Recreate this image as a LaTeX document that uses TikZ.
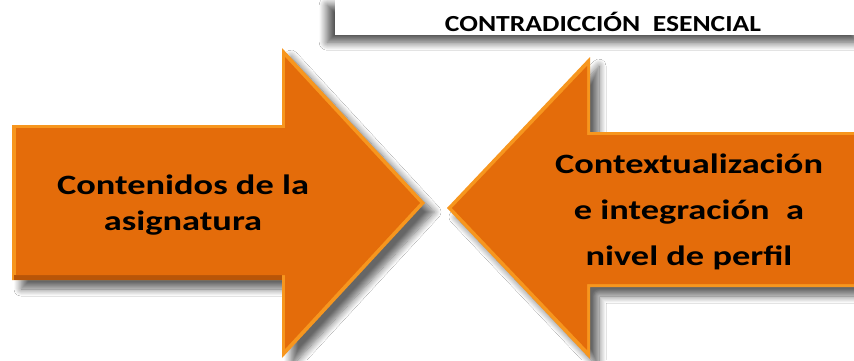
\documentclass[tikz,border=0pt]{standalone}
\usepackage{fontspec}
\setmainfont{Carlito}
\newfontfamily\widefont[FakeStretch=1.3]{Carlito}
\newfontfamily\hdrfont[FakeStretch=1.2]{Carlito}
\usetikzlibrary{shadows.blur}
\definecolor{orbase}{HTML}{E46C0A}
\definecolor{orlight}{HTML}{F7961E}
\definecolor{ordark}{HTML}{B85508}
\tikzset{
  arrowtxt/.style={font=\widefont\bfseries\fontsize{28}{36}\selectfont, align=center, text=black},
  headtxt/.style={font=\hdrfont\bfseries\fontsize{23}{26}\selectfont, text=black},
  arrshadow/.style={blur shadow={shadow xshift=9pt, shadow yshift=-9pt, shadow blur radius=7pt, shadow blur steps=10, shadow opacity=60}},
}
\begin{document}
\begin{tikzpicture}[x=1pt,y=1pt]
\useasboundingbox (0,0) rectangle (854,360);
\fill[white] (0,0) rectangle (854,360);
% header box
\node[draw=none, fill=white, minimum width=530pt, minimum height=37pt, anchor=north west,
  blur shadow={shadow xshift=-8pt, shadow yshift=-7pt, shadow blur steps=12, shadow blur radius=8pt, shadow opacity=70}]
  (hdr) at (335,362) {};
\node[headtxt] (hdrtxt) at (603,338) {CONTRADICCIÓN\ \ ESENCIAL};
% left arrow
\fill[orlight, arrshadow]
  (12,235) -- (282,235) -- (282,312) -- (425,157) -- (282,2) -- (282,80) -- (12,80) -- cycle;
\fill[ordark] (14,80) -- (282,80) -- (282,85) -- (14,85) -- cycle;
\fill[orbase] (16,232) -- (285,232) -- (285,303) -- (420,157) -- (285,11) -- (285,85) -- (16,85) -- cycle;
% right arrow
\fill[orlight, arrshadow]
  (860,228) -- (590,228) -- (590,303) -- (447,152) -- (590,1) -- (590,73) -- (860,73) -- cycle;
\fill[orbase] (860,225) -- (587,225) -- (587,294) -- (452,152) -- (587,10) -- (587,76) -- (860,76) -- cycle;
% texts
\node[arrowtxt] (ltxt) at (183,155) {Contenidos de la\\asignatura};
\node[arrowtxt, font=\widefont\bfseries\fontsize{28}{46}\selectfont] (rtxt) at (689,148) {Contextualización\\e integración\ \ a\\nivel de perfil};
\end{tikzpicture}
\end{document}
